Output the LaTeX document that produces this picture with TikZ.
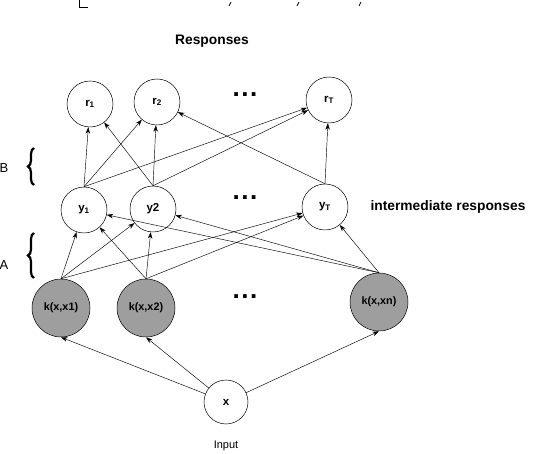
\documentclass[tikz,border=0pt]{standalone}
\usepackage{fontspec}
\setmainfont{Liberation Sans}
\usetikzlibrary{arrows.meta,decorations.pathreplacing}
\begin{document}
\begin{tikzpicture}[x=1pt,y=-1pt,
  wnode/.style={circle,draw,line width=0.5pt,inner sep=0pt,font=\bfseries\fontsize{11.5}{13}\selectfont},
  rnode/.style={wnode,minimum size=46pt},
  ynode/.style={wnode,minimum size=46pt},
  knode/.style={wnode,fill=black!38,minimum size=58pt,font=\bfseries\fontsize{10.8}{12}\selectfont},
  xnode/.style={wnode,minimum size=44pt},
  conn/.style={line width=0.45pt,-{Stealth[length=6.5pt,width=4.5pt]}},
  dotsl/.style={font=\bfseries\fontsize{26}{26}\selectfont,inner sep=0pt},
  lbl/.style={font=\bfseries\fontsize{13.8}{16}\selectfont},
  bracestyle/.style={decorate,decoration={brace,amplitude=6pt},line width=2.2pt}
]
\useasboundingbox (0,0) rectangle (536,454);
% cut-off fragments at the top
\draw[line width=0.8pt] (79,0) -- (79,7) -- (88,7);
\draw[line width=0.7pt] (231,2) -- (229,6);
\draw[line width=0.7pt] (299,2) -- (297,6);
\draw[line width=0.7pt] (361,2) -- (359,6);

\node[lbl] (resp) at (212,41) {Responses};
\node[rnode] (r1) at (90,104) {r$_{\mathbf 1}$};
\node[rnode] (r2) at (157,102) {r$_{\mathbf 2}$};
\node[rnode] (rT) at (329,100) {r$_{\mathbf T}$};
\node[dotsl,anchor=base] (d1) at (245,97) {.\hspace{1.5pt}.\hspace{1.5pt}.};

\node[ynode] (y1) at (84,210) {y$_{\mathbf 1}$};
\node[ynode] (y2) at (153,209) {y2};
\node[ynode] (yT) at (325,207) {y$_{\mathbf T}$};
\node[dotsl,anchor=base] (d2) at (245,200) {.\hspace{1.5pt}.\hspace{1.5pt}.};
\node[lbl,anchor=west] (inter) at (367,207) {intermediate responses};

\node[knode] (k1) at (61,308) {k(x,x1)};
\node[knode] (k2) at (146,308) {k(x,x2)};
\node[knode] (kn) at (379,302) {k(x,xn)};
\node[dotsl,anchor=base] (d3) at (245,299) {.\hspace{1.5pt}.\hspace{1.5pt}.};

\node[xnode] (x) at (226,402) {x};
\node[font=\fontsize{11}{13}\selectfont] (inp) at (226,446) {Input};

\node[font=\fontsize{13}{15}\selectfont] (B) at (4,168) {B};
\node[font=\fontsize{13}{15}\selectfont] (A) at (4,265) {A};
\draw[bracestyle] (34,185) -- (34,148);
\draw[bracestyle] (34,278) -- (34,233);

% input to kernels
\draw[conn] (x) -- (k1.south);
\draw[conn] (x) -- (k2.south);
\draw[conn] (x) -- (kn.south);

% kernels to intermediate
\foreach \s in {k1,k2,kn}{
  \foreach \t in {y1,y2,yT}{
    \draw[conn] (\s.north) -- (\t);
  }
}

% intermediate to responses
\draw[conn] (y1.north) -- (r1);
\draw[conn] (y1.north) -- (r2);
\draw[conn] (y1.north) -- (rT);
\draw[conn] (y2.north) -- (r1);
\draw[conn] (y2.north) -- (r2);
\draw[conn] (y2.north) -- (rT);
\draw[conn] (yT.north) -- (r2);
\draw[conn] (yT.north) -- (rT);
\end{tikzpicture}
\end{document}
